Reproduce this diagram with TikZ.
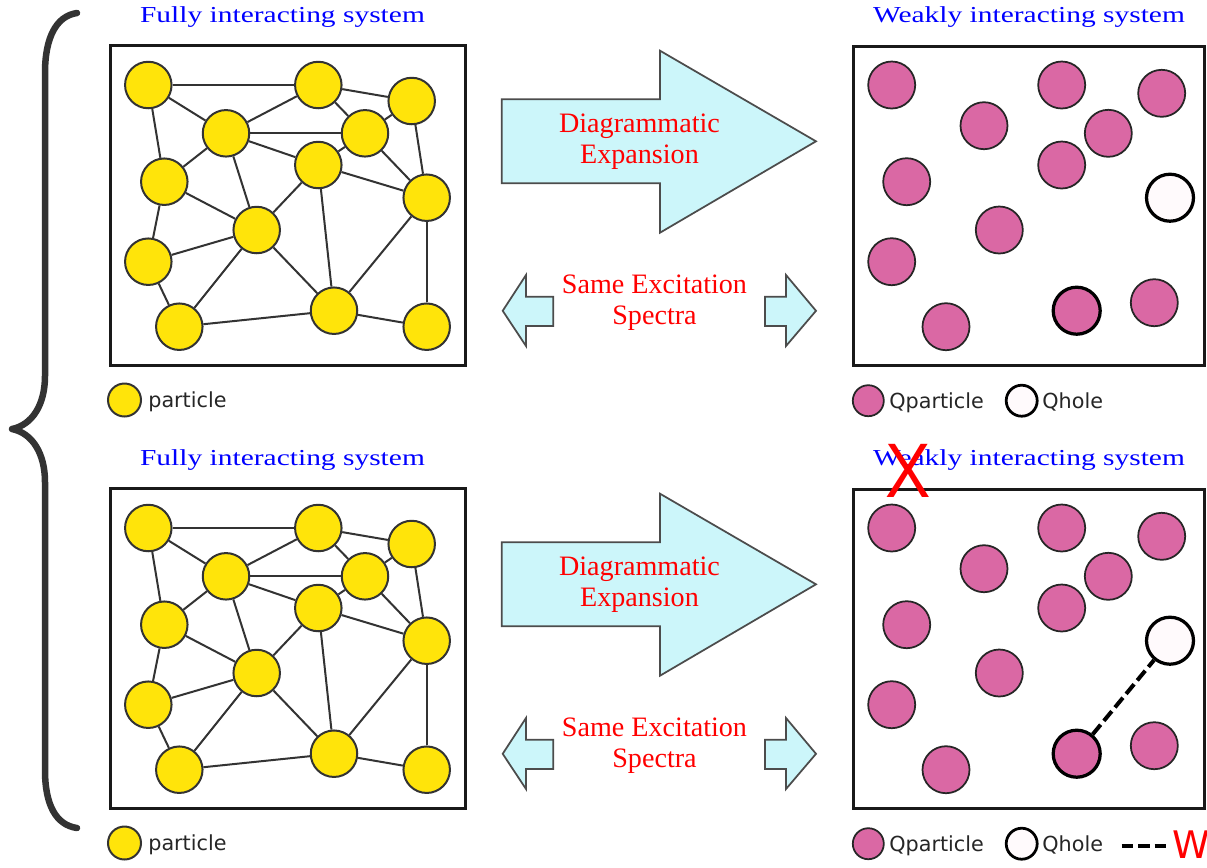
\documentclass[tikz,border=0pt]{standalone}
\usepackage{fontspec}
\usepackage{graphicx}
\newfontfamily\serifF{Liberation Serif}
\newfontfamily\sansF{DejaVu Sans}
\newfontfamily\xsans{Liberation Sans}
\definecolor{yellowc}{RGB}{255,228,10}
\definecolor{pinkc}{RGB}{218,104,164}
\definecolor{arrowc}{RGB}{204,246,250}
\definecolor{braceg}{RGB}{51,51,51}
\definecolor{holec}{RGB}{255,250,252}
\tikzset{
  yel/.style={circle, draw=black!80, line width=0.04cm, fill=yellowc, minimum size=0.93cm, inner sep=0pt},
  qp/.style={circle, draw=black!85, line width=0.035cm, fill=pinkc, minimum size=0.94cm, inner sep=0pt},
  qpthick/.style={qp, draw=black, line width=0.065cm},
  qh/.style={circle, draw=black, line width=0.065cm, fill=holec, minimum size=0.94cm, inner sep=0pt},
  bond/.style={draw=black!80, line width=0.04cm},
  frame/.style={draw=black!90, line width=0.06cm, inner sep=0pt},
  arrowshape/.style={draw=black!70, fill=arrowc, line width=0.035cm, line join=miter},
  titletxt/.style={text=blue, font=\serifF\fontsize{13}{15}\selectfont, inner sep=0pt, anchor=base},
  redtxt/.style={text=red, font=\serifF\fontsize{16}{17.4}\selectfont, align=center, inner sep=0pt},
  legtxt/.style={text=black!85, font=\sansF\fontsize{11.8}{13}\selectfont, inner sep=0pt, anchor=base west},
  wlink/.style={draw=black, line width=0.08cm, dash pattern=on 0.25cm off 0.1cm},
}
\newcommand\fullnet[2]{%
  \begin{scope}[shift={(0,#2)}]
    \node[frame, minimum width=7.12cm, minimum height=6.42cm] (#1box) at (288,205.5) {};
    \node[yel] (#1p1) at (148.3,85) {};
    \node[yel] (#1p2) at (318.3,85) {};
    \node[yel] (#1p3) at (411.7,101) {};
    \node[yel] (#1p4) at (226,133.3) {};
    \node[yel] (#1p5) at (365,133.3) {};
    \node[yel] (#1p6) at (318.3,165) {};
    \node[yel] (#1p7) at (164.3,181.7) {};
    \node[yel] (#1p8) at (426.7,197.7) {};
    \node[yel] (#1p9) at (256.7,230) {};
    \node[yel] (#1p10) at (148.3,261.7) {};
    \node[yel] (#1p11) at (179.3,326.7) {};
    \node[yel] (#1p12) at (334,310.7) {};
    \node[yel] (#1p13) at (426.7,326.7) {};
    \foreach \a/\b in {1/2,1/4,1/7,2/4,2/3,2/5,4/5,4/7,4/6,4/9,3/5,3/8,5/6,5/8,6/8,6/9,6/12,7/9,7/10,9/10,9/11,9/12,10/11,11/12,8/12,12/13,8/13}
      \draw[bond] (#1p\a) -- (#1p\b);
    \node[titletxt] (#1title) at (282.5,22) {\scalebox{1.29}[1]{Fully interacting system}};
    \node[yel, minimum size=0.66cm] (#1legp) at (124.5,400) {};
    \node[legtxt] (#1legptxt) at (148,407.3) {particle};
    % arrows
    \draw[arrowshape] (501.7,99.3) -- (660,99.3) -- (660,50.7) -- (816,141.3) -- (660,232.7) -- (660,183.3) -- (501.7,183.3) -- cycle;
    \node[redtxt] (#1diag) at (639.5,141.5) {Diagrammatic\\Expansion};
    \draw[arrowshape] (502.7,310.8) -- (526,275) -- (526,296.7) -- (553.3,296.7) -- (553.3,326) -- (526,326) -- (526,346) -- cycle;
    \draw[arrowshape] (816,310.8) -- (786,275) -- (786,296.7) -- (765,296.7) -- (765,326) -- (786,326) -- (786,346) -- cycle;
    \node[redtxt] (#1same) at (654.5,302.5) {Same Excitation\\Spectra};
    % right box
    \node[frame, minimum width=7.04cm, minimum height=6.4cm] (#1rbox) at (1029,206) {};
    \node[titletxt] (#1rtitle) at (1029,22) {\scalebox{1.29}[1]{Weakly interacting system}};
    \node[qp] (#1qa) at (891.7,85) {};
    \node[qp] (#1qb) at (1061.7,85) {};
    \node[qp] (#1qc) at (1161.7,93.3) {};
    \node[qp] (#1qd) at (984,125.7) {};
    \node[qp] (#1qe) at (1108.3,133.3) {};
    \node[qp] (#1qf) at (1061.7,165) {};
    \node[qp] (#1qg) at (906.7,181.7) {};
    \node[qh] (#1qh) at (1170,197.7) {};
    \node[qp] (#1qi) at (999.3,230) {};
    \node[qp] (#1qj) at (891.7,261.7) {};
    \node[qp] (#1qk) at (946,326.7) {};
    \node[qpthick] (#1ql) at (1076.7,310.7) {};
    \node[qp] (#1qm) at (1154.3,302.7) {};
    \node[qp, minimum size=0.62cm] (#1legq) at (868.3,400.7) {};
    \node[legtxt] (#1legqtxt) at (889,408.5) {Qparticle};
    \node[qh, minimum size=0.62cm, line width=0.055cm] (#1legh) at (1021.7,400.7) {};
    \node[legtxt] (#1leghtxt) at (1042,408.5) {Qhole};
  \end{scope}}
\begin{document}
\begin{tikzpicture}[x=0.02cm, y=-0.02cm]
\useasboundingbox (0,0) rectangle (1207,867);
\fill[white] (0,0) rectangle (1207,867);
% brace
\draw[braceg, line width=0.13cm, line cap=round, line join=round]
  (77,13) .. controls (56,16) and (45,38) .. (45,73) -- (45,376)
  .. controls (45,405) and (32,425) .. (12,429)
  .. controls (32,433) and (45,453) .. (45,482) -- (45,770)
  .. controls (45,805) and (56,825) .. (77,828);
\fullnet{t}{0}
\fullnet{b}{443}
% W interaction
\draw[wlink] (bql) -- (bqh);
\coordinate (wl1) at (1121.7,846);
\coordinate (wl2) at (1170,846);
\draw[wlink, line width=0.065cm, dash pattern=on 0.23cm off 0.1cm] (wl1) -- (wl2);
\node[text=red, font=\sansF\fontsize{21.6}{24}\selectfont, inner sep=0pt, anchor=base west] (wlabel) at (1172,858) {W};
% red cross
\node[text=red, font=\xsans\fontsize{44}{46}\selectfont, inner sep=0pt, anchor=base] (cross) at (908.3,497) {\scalebox{0.88}[1]{X}};
\end{tikzpicture}
\end{document}
